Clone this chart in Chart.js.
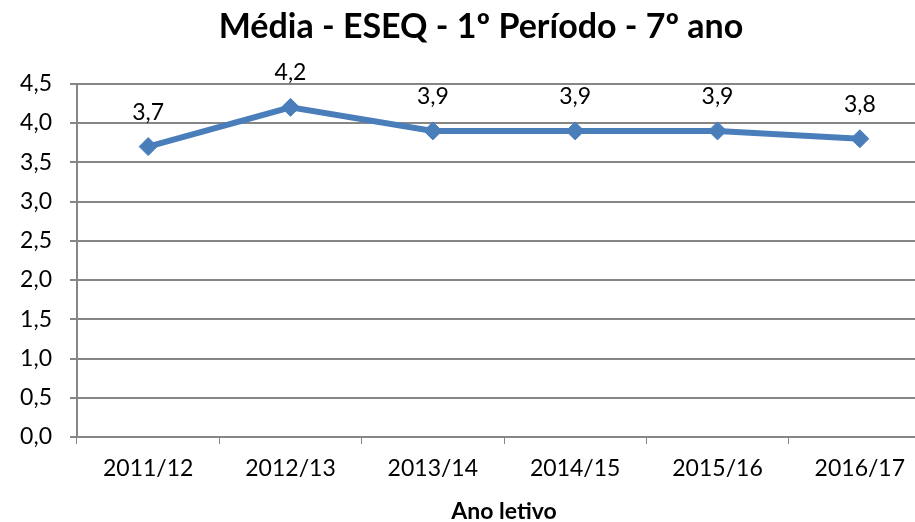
<!DOCTYPE html>
<html>
<head>
<meta charset="utf-8">
<script src="https://cdn.jsdelivr.net/npm/chart.js@4"></script>
<style>
  html, body { margin: 0; padding: 0; background: #fff; overflow: hidden; }
  #wrap { width: 962px; height: 522px; position: relative; }
</style>
</head>
<body>
<div id="wrap"><canvas id="c" width="962" height="522"></canvas></div>
<script>
const categories = ['2011/12', '2012/13', '2013/14', '2014/15', '2015/16', '2016/17'];
const mediaValues = [3.7, 4.2, 3.9, 3.9, 3.9, 3.8];
const chartTitle = 'Média - ESEQ - 1º Período - 7º ano';
const xAxisTitle = 'Ano letivo';
const yMin = 0, yMax = 4.5, yStep = 0.5;

const FONT = 'Lato, "Open Sans", sans-serif';
const fmt = v => Number(v).toFixed(1).replace('.', ',');

const dataLabels = {
  id: 'dataLabels',
  afterDatasetsDraw(chart) {
    const ctx = chart.ctx;
    const meta = chart.getDatasetMeta(0);
    ctx.save();
    ctx.font = '23px ' + FONT;
    ctx.fillStyle = '#000';
    ctx.textAlign = 'center';
    ctx.textBaseline = 'alphabetic';
    meta.data.forEach((pt, i) => {
      ctx.fillText(fmt(chart.data.datasets[0].data[i]), pt.x, pt.y - 27);
    });
    ctx.restore();
  }
};

const titleShift = {
  id: 'titleShift',
  afterLayout(chart) {
    if (chart.titleBlock) {
      chart.titleBlock.left = 0;
      chart.titleBlock.right = chart.width;
    }
  }
};

new Chart(document.getElementById('c'), {
  type: 'line',
  data: {
    labels: categories,
    datasets: [{
      data: mediaValues,
      borderColor: '#4a7ebb',
      backgroundColor: '#4a7ebb',
      borderWidth: 6,
      pointStyle: 'rectRot',
      pointRadius: 9,
      pointBorderWidth: 1,
      pointBackgroundColor: '#4a7ebb',
      pointBorderColor: '#4a7ebb',
      tension: 0
    }]
  },
  options: {
    responsive: false,
    animation: false,
    layout: { padding: { left: 0, right: 31, top: 0, bottom: 0 } },
    plugins: {
      legend: { display: false },
      tooltip: { enabled: false },
      title: {
        display: true,
        text: chartTitle,
        color: '#000',
        font: { family: FONT, size: 34, weight: 'bold', lineHeight: 1.2 },
        padding: { top: 7, bottom: 36 }
      }
    },
    scales: {
      x: {
        offset: true,
        grid: { display: true, drawOnChartArea: false, offset: true, tickLength: 7, color: '#868686', lineWidth: 1 },
        border: { color: '#868686', width: 2 },
        ticks: { color: '#000', font: { family: FONT, size: 23 }, padding: 11, maxRotation: 0 },
        title: { display: true, text: xAxisTitle, color: '#000', font: { family: FONT, size: 23, weight: 'bold', lineHeight: 1.0 }, padding: { top: 0, bottom: -1 } },
        afterFit(scale) { scale.height = 85; }
      },
      y: {
        min: yMin, max: yMax,
        grid: { color: '#868686', lineWidth: 2, tickLength: 7, drawTicks: true },
        border: { color: '#868686', width: 2 },
        ticks: { stepSize: yStep, color: '#000', font: { family: FONT, size: 23 }, padding: 18, callback: v => fmt(v) },
        afterFit(scale) { scale.width = 77; }
      }
    }
  },
  plugins: [dataLabels, titleShift]
});
</script>
</body>
</html>
